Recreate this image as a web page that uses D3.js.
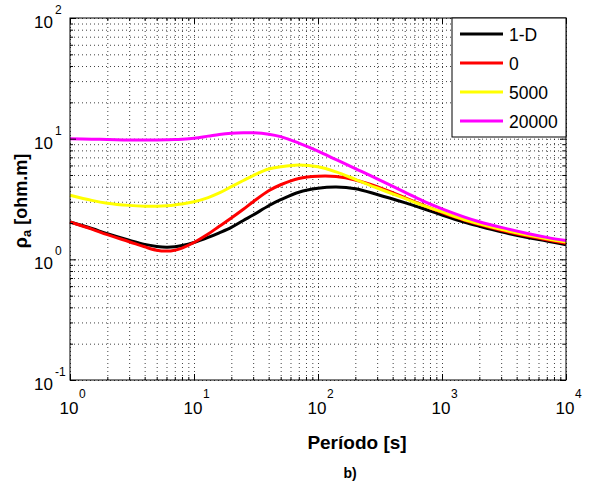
<html>
<head>
<meta charset="utf-8">
<script src="https://d3js.org/d3.v7.min.js"></script>
<style>
body { margin: 0; background: #fff; }
text { font-family: "Liberation Sans", Arial, Helvetica, sans-serif; }
</style>
</head>
<body>
<svg id="chart" width="593" height="486"></svg>
<script>
// periods [s] and apparent resistivity curves
const periods  = [1, 1.5, 2, 3, 4, 5, 6, 7, 8, 10, 13, 16, 20, 25, 30, 40, 50, 70, 100, 140, 200, 300, 500, 700, 1000, 1500, 2000, 3000, 5000, 7000, 10000];
const rho1D    = [2.04, 1.8, 1.63, 1.44, 1.33, 1.28, 1.26, 1.27, 1.3, 1.38, 1.52, 1.66, 1.84, 2.1, 2.33, 2.78, 3.12, 3.6, 3.88, 3.97, 3.85, 3.45, 2.95, 2.64, 2.33, 2.04, 1.88, 1.69, 1.51, 1.42, 1.32];
const rho0     = [2.04, 1.78, 1.6, 1.4, 1.27, 1.19, 1.17, 1.19, 1.24, 1.38, 1.62, 1.88, 2.2, 2.6, 3.0, 3.7, 4.15, 4.68, 4.88, 4.85, 4.55, 4.0, 3.25, 2.82, 2.44, 2.12, 1.94, 1.74, 1.55, 1.45, 1.36];
const rho5000  = [3.4, 3.08, 2.92, 2.8, 2.76, 2.76, 2.78, 2.82, 2.88, 3.0, 3.25, 3.55, 4.0, 4.5, 4.95, 5.6, 5.85, 6.05, 5.85, 5.3, 4.6, 3.9, 3.2, 2.8, 2.47, 2.14, 1.97, 1.77, 1.58, 1.48, 1.39];
const rho20000 = [10.0, 9.9, 9.85, 9.75, 9.75, 9.75, 9.78, 9.82, 9.9, 10.1, 10.5, 10.85, 11.1, 11.2, 11.2, 10.9, 10.4, 9.2, 7.9, 6.7, 5.65, 4.65, 3.6, 3.05, 2.62, 2.25, 2.05, 1.84, 1.63, 1.52, 1.43];

const seriesNames  = ["1-D", "0", "5000", "20000"];
const seriesValues = [rho1D, rho0, rho5000, rho20000];
const seriesColors = ["#000000", "#ff0000", "#ffff00", "#ff00ff"];

const xMajor = [1, 10, 100, 1000, 10000];
const xExp   = ["0", "1", "2", "3", "4"];
const yMajor = [0.1, 1, 10, 100];
const yExp   = ["-1", "0", "1", "2"];

const pLeft = 70, pRight = 566, pTop = 18, pBottom = 380;
const w = pRight - pLeft, h = pBottom - pTop;

const svg = d3.select("#chart");

const x = d3.scaleLog().domain([1, 10000]).range([pLeft, pRight]);
const y = d3.scaleLog().domain([0.1, 100]).range([pBottom, pTop]);

// minor positions (2..9 of every decade)
const xMinor = [];
for (let d = 1; d < 10000; d *= 10) for (let k = 2; k <= 9; k++) xMinor.push(d * k);
const yMinor = [];
for (let d = 0.1; d < 99; d *= 10) for (let k = 2; k <= 9; k++) yMinor.push(+(d * k).toPrecision(3));

// dotted grid
function gridStyle(g) {
  g.select(".domain").remove();
  g.selectAll(".tick text").remove();
  g.selectAll(".tick line").attr("stroke", "#000").attr("stroke-dasharray", "1,3").attr("stroke-opacity", 0.75);
}
svg.append("g").attr("transform", "translate(0," + pBottom + ")")
  .call(d3.axisBottom(x).tickValues(xMajor.concat(xMinor)).tickSize(-h).tickFormat(""))
  .call(gridStyle);
svg.append("g").attr("transform", "translate(" + pLeft + ",0)")
  .call(d3.axisLeft(y).tickValues(yMajor.concat(yMinor)).tickSize(-w).tickFormat(""))
  .call(gridStyle);

// curves
const line = d3.line()
  .x((d, i) => x(periods[i]))
  .y(d => y(d))
  .curve(d3.curveCatmullRom);

svg.append("g").selectAll("path")
  .data(seriesValues)
  .join("path")
  .attr("d", line)
  .attr("fill", "none")
  .attr("stroke", (d, i) => seriesColors[i])
  .attr("stroke-width", 3);

// inward ticks on all four sides
function tickStyle(g) {
  g.select(".domain").remove();
  g.selectAll(".tick text").remove();
  g.selectAll(".tick line").attr("stroke", "#000");
}
svg.append("g").attr("transform", "translate(0," + pBottom + ")")
  .call(d3.axisBottom(x).tickValues(xMajor).tickSize(-6).tickFormat("")).call(tickStyle);
svg.append("g").attr("transform", "translate(0," + pBottom + ")")
  .call(d3.axisBottom(x).tickValues(xMinor).tickSize(-3).tickFormat("")).call(tickStyle);
svg.append("g").attr("transform", "translate(0," + pTop + ")")
  .call(d3.axisTop(x).tickValues(xMajor).tickSize(-6).tickFormat("")).call(tickStyle);
svg.append("g").attr("transform", "translate(0," + pTop + ")")
  .call(d3.axisTop(x).tickValues(xMinor).tickSize(-3).tickFormat("")).call(tickStyle);
svg.append("g").attr("transform", "translate(" + pLeft + ",0)")
  .call(d3.axisLeft(y).tickValues(yMajor).tickSize(-6).tickFormat("")).call(tickStyle);
svg.append("g").attr("transform", "translate(" + pLeft + ",0)")
  .call(d3.axisLeft(y).tickValues(yMinor).tickSize(-3).tickFormat("")).call(tickStyle);
svg.append("g").attr("transform", "translate(" + pRight + ",0)")
  .call(d3.axisRight(y).tickValues(yMajor).tickSize(-6).tickFormat("")).call(tickStyle);
svg.append("g").attr("transform", "translate(" + pRight + ",0)")
  .call(d3.axisRight(y).tickValues(yMinor).tickSize(-3).tickFormat("")).call(tickStyle);

// box
svg.append("rect")
  .attr("x", pLeft).attr("y", pTop).attr("width", w).attr("height", h)
  .attr("fill", "none").attr("stroke", "#000").attr("stroke-width", 1);

// x tick labels 10^n
const xl = svg.append("g").selectAll("g").data(xMajor).join("g")
  .attr("transform", d => "translate(" + x(d) + ",0)");
xl.append("text").attr("x", -1).attr("y", 414).attr("text-anchor", "middle")
  .attr("font-size", 17).attr("fill", "#000").text("10");
xl.append("text").attr("x", 9).attr("y", 398).attr("text-anchor", "start")
  .attr("font-size", 12).attr("fill", "#000").text((d, i) => xExp[i]);

// y tick labels 10^n
const yl = svg.append("g").selectAll("g").data(yMajor).join("g")
  .attr("transform", d => "translate(0," + y(d) + ")");
yl.append("text").attr("x", 53).attr("y", 10).attr("text-anchor", "end")
  .attr("font-size", 17).attr("fill", "#000").text("10");
yl.append("text").attr("x", 55).attr("y", -4).attr("text-anchor", "start")
  .attr("font-size", 12).attr("fill", "#000").text((d, i) => yExp[i]);

// axis labels
svg.append("text")
  .attr("x", 357).attr("y", 449).attr("text-anchor", "middle")
  .attr("font-size", 19).attr("font-weight", "bold").attr("fill", "#000")
  .text("Período [s]");

const yt = svg.append("text")
  .attr("transform", "translate(27," + ((pTop + pBottom) / 2 + 2) + ") rotate(-90)")
  .attr("text-anchor", "middle").attr("font-size", 18).attr("font-weight", "bold").attr("fill", "#000");
yt.append("tspan").text("ρ");
yt.append("tspan").attr("font-size", 13).attr("dy", 4).text("a");
yt.append("tspan").attr("dy", -4).text(" [ohm.m]");

svg.append("text")
  .attr("x", 350).attr("y", 478).attr("text-anchor", "middle")
  .attr("font-size", 14).attr("font-weight", "bold").attr("fill", "#000")
  .text("b)");

// legend
const lg = svg.append("g");
lg.append("rect").attr("x", 452).attr("y", pTop).attr("width", pRight - 452).attr("height", 119)
  .attr("fill", "#fff").attr("stroke", "#000");
const le = lg.selectAll("g.entry").data(seriesNames).join("g")
  .attr("class", "entry")
  .attr("transform", (d, i) => "translate(0," + (34 + i * 29) + ")");
le.append("line").attr("x1", 460).attr("x2", 503).attr("y1", 0).attr("y2", 0)
  .attr("stroke", (d, i) => seriesColors[i]).attr("stroke-width", 3);
le.append("text").attr("x", 509).attr("y", 6.5).attr("font-size", 17.5).attr("fill", "#000")
  .text(d => d);
</script>
</body>
</html>
